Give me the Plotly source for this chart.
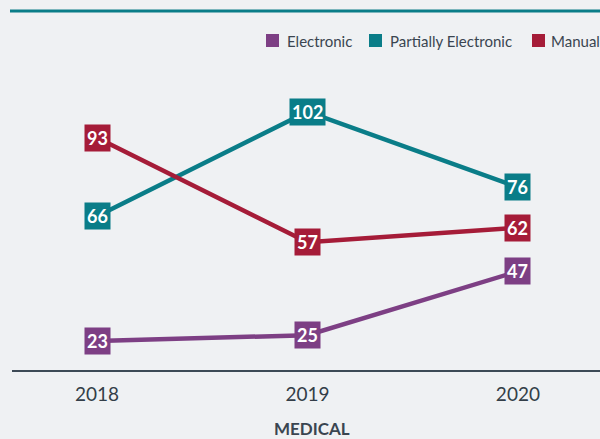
import plotly.graph_objects as go

years = [2018, 2019, 2020]
electronic = [23, 25, 47]
partially = [66, 102, 76]
manual = [93, 57, 62]
series_names = ["Electronic", "Partially Electronic", "Manual"]
series_values = [electronic, partially, manual]
colors = ["#7d3f84", "#0a7d88", "#a51c38"]

W, H = 600, 439
ML, MR, MT, MB = 12, 0, 74, 69
PW, PH = W - ML - MR, H - MT - MB


def px(x):
    return (x - ML) / PW


def py(y):
    return (H - MB - y) / PH


fig = go.Figure()
for name, vals, c in zip(series_names, series_values, colors):
    fig.add_trace(go.Scatter(x=years, y=vals, mode="lines", name=name,
                             line=dict(color=c, width=4.5),
                             showlegend=False, hoverinfo="skip"))

annotations = []
shapes = []
for vals, c in zip(series_values, colors):
    for x, v in zip(years, vals):
        annotations.append(dict(x=x, y=v, xref="x", yref="y", text=str(v), showarrow=False,
                                font=dict(family="Lato", size=18, color="white", weight=700),
                                bgcolor=c, borderpad=2, xanchor="center", yanchor="middle"))

# manual legend (squares + labels)
legend_sq_left = [266, 369, 532]
legend_text_left = [285, 388, 549]
for name, c, sx, tx in zip(series_names, colors, legend_sq_left, legend_text_left):
    shapes.append(dict(type="rect", xref="paper", yref="paper", x0=px(sx), x1=px(sx + 13),
                       y0=py(47), y1=py(34), fillcolor=c, line=dict(width=0)))
    annotations.append(dict(x=px(tx), y=py(40.5), xref="paper", yref="paper", text=name,
                            showarrow=False, xanchor="left", yanchor="middle",
                            font=dict(family="Lato", size=15, color="#3a4550")))

annotations.append(dict(x=px(312), y=py(428), xref="paper", yref="paper", text="MEDICAL",
                        showarrow=False, yanchor="middle",
                        font=dict(family="Lato", size=17, color="#3a4550", weight=700)))

shapes.append(dict(type="line", xref="paper", yref="paper", x0=px(10), x1=1.0,
                   y0=py(11), y1=py(11), line=dict(color="#0a7d88", width=3)))

fig.update_layout(
    width=W, height=H,
    paper_bgcolor="#eff1f3", plot_bgcolor="#eff1f3",
    margin=dict(l=ML, r=MR, t=MT, b=MB),
    xaxis=dict(range=[2017.596, 2020.39], tickvals=years, ticktext=[str(y) for y in years],
               showgrid=False, zeroline=False, showline=True, linecolor="#3d4a56", linewidth=1.5,
               tickfont=dict(family="Lato", size=19, color="#333e48"),
               ticks="", ticklabelstandoff=6),
    yaxis=dict(range=[13, 115], visible=False, showgrid=False, zeroline=False),
    showlegend=False,
    annotations=annotations,
    shapes=shapes,
)
fig.write_html("out.html", config={"displayModeBar": False},
               post_script="document.body.style.margin='0';document.body.style.overflow='hidden';")
